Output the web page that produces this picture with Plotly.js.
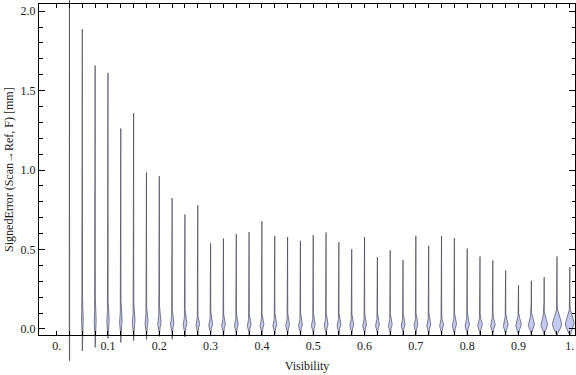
<!DOCTYPE html>
<html>
<head>
<meta charset="utf-8">
<script src="https://cdn.plot.ly/plotly-3.0.1.min.js"></script>
<style>
html,body{margin:0;padding:0;background:#fff;}
#chart{width:576px;height:375px;}
</style>
</head>
<body>
<div id="chart"></div>
<script>
// ---------------- data ----------------
const visibility = [0.025, 0.05, 0.075, 0.1, 0.125, 0.15, 0.175, 0.2, 0.225, 0.25,
                    0.275, 0.3, 0.325, 0.35, 0.375, 0.4, 0.425, 0.45, 0.475, 0.5,
                    0.525, 0.55, 0.575, 0.6, 0.625, 0.65, 0.675, 0.7, 0.725, 0.75,
                    0.775, 0.8, 0.825, 0.85, 0.875, 0.9, 0.925, 0.95, 0.975, 1.0];
// largest signed error per visibility bin (top of each violin)
const maxError = [2.2, 1.887, 1.658, 1.612, 1.262, 1.358, 0.985, 0.962, 0.824, 0.721,
                  0.778, 0.539, 0.570, 0.597, 0.610, 0.679, 0.585, 0.579, 0.555, 0.591,
                  0.608, 0.547, 0.503, 0.579, 0.453, 0.495, 0.434, 0.587, 0.524, 0.585,
                  0.572, 0.507, 0.457, 0.432, 0.369, 0.275, 0.304, 0.327, 0.457, 0.390];
// smallest signed error per bin (bottom of each violin)
const minError = [-0.200, -0.138, -0.116, -0.060, -0.085, -0.074, -0.067, -0.047, -0.065, -0.050,
                  -0.044, -0.045, -0.045, -0.045, -0.045, -0.045, -0.045, -0.045, -0.045, -0.045,
                  -0.045, -0.045, -0.045, -0.045, -0.042, -0.042, -0.042, -0.042, -0.042, -0.040,
                  -0.040, -0.040, -0.040, -0.040, -0.040, -0.040, -0.040, -0.040, -0.040, -0.040];
// most frequent error (densest point of each violin)
const modeError = [0.060, 0.066, 0.060, 0.055, 0.050, 0.046, 0.042, 0.038, 0.035, 0.032,
                   0.030, 0.028, 0.026, 0.026, 0.025, 0.025, 0.025, 0.025, 0.025, 0.025,
                   0.025, 0.025, 0.025, 0.025, 0.025, 0.025, 0.025, 0.025, 0.025, 0.025,
                   0.025, 0.025, 0.025, 0.026, 0.026, 0.027, 0.028, 0.028, 0.030, 0.030];
// spread of the dense core
const spreadError = [0.045, 0.045, 0.041, 0.037, 0.034, 0.031, 0.029, 0.027, 0.025, 0.024,
                     0.023, 0.022, 0.021, 0.021, 0.020, 0.020, 0.020, 0.020, 0.020, 0.020,
                     0.020, 0.020, 0.020, 0.020, 0.020, 0.020, 0.020, 0.020, 0.021, 0.021,
                     0.022, 0.023, 0.024, 0.025, 0.026, 0.028, 0.030, 0.032, 0.040, 0.040];
// relative peak density of each bin
const peakDensity = [0.5, 1.0, 1.1, 1.3, 1.4, 1.5, 1.6, 1.8, 1.8, 1.9,
                     1.9, 2.0, 2.0, 2.0, 2.0, 2.0, 2.0, 2.0, 2.0, 2.0,
                     2.0, 2.0, 2.0, 2.0, 2.0, 2.0, 2.0, 2.0, 2.1, 2.1,
                     2.2, 2.3, 2.4, 2.4, 2.5, 2.8, 3.1, 3.4, 4.6, 4.4];

const xTickVals = [0, 0.1, 0.2, 0.3, 0.4, 0.5, 0.6, 0.7, 0.8, 0.9, 1.0];
const xTickText = ['0.', '0.1', '0.2', '0.3', '0.4', '0.5', '0.6', '0.7', '0.8', '0.9', '1.'];
const yTickVals = [0, 0.5, 1.0, 1.5, 2.0];
const yTickText = ['0.0', '0.5', '1.0', '1.5', '2.0'];

// ---------------- geometry ----------------
const FIG_W = 576, FIG_H = 375;
const M = {l: 39, r: 1, t: 0, b: 13};
const plotW = FIG_W - M.l - M.r;
const plotH = FIG_H - M.t - M.b;
const frameTop = 4.3, frameBottom = 335;      // px from top of figure
const xRange = [-0.0344, 1.0101];
const yRange = [-0.0378, 2.0435];
const d0 = (FIG_H - M.b - frameBottom) / plotH;
const d1 = (FIG_H - M.b - frameTop) / plotH;
const spanPerPaper = (yRange[1] - yRange[0]) / (d1 - d0);
const yFullRange = [yRange[0] - d0 * spanPerPaper, yRange[0] + (1 - d0) * spanPerPaper];
const PX = (xRange[1] - xRange[0]) / plotW;   // x units per pixel

const xMinor = visibility.filter(v => Math.abs(v * 10 - Math.round(v * 10)) > 1e-6);

// ---------------- violins ----------------
function violinTrace(i) {
  const x0 = visibility[i], lo = minError[i], hi = maxError[i];
  const m = modeError[i], s = spreadError[i];
  const W = peakDensity[i] * PX;
  const tail = 0.2 * PX;
  const top = Math.min(hi, m + 4.5 * s);
  const ys = [];
  const n = 80;
  for (let k = 0; k <= n; k++) ys.push(lo + (top - lo) * k / n);
  if (hi > top) ys.push(hi);
  const half = ys.map((y, k) => {
    if (k === 0 || k === ys.length - 1) return 0;
    const sd = y < m ? 0.8 * s : 1.1 * s;
    const g = W * Math.exp(-0.5 * Math.pow((y - m) / sd, 2));
    return Math.max(g, tail);
  });
  const xs = [], yy = [];
  for (let k = 0; k < ys.length; k++) { xs.push(x0 + half[k]); yy.push(ys[k]); }
  for (let k = ys.length - 1; k >= 0; k--) { xs.push(x0 - half[k]); yy.push(ys[k]); }
  return {
    type: 'scatter', mode: 'lines', x: xs, y: yy,
    xaxis: 'x', yaxis: 'y',
    fill: 'toself', fillcolor: '#c4c9f2',
    line: {color: 'rgba(55,55,68,0.68)', width: 0.9},
    hoverinfo: 'skip', showlegend: false
  };
}
const traces = visibility.map((v, i) => violinTrace(i));
// anchor trace so the framed subplot exists
traces.push({type: 'scatter', mode: 'markers', x: [null], y: [null], xaxis: 'x2', yaxis: 'y2',
             hoverinfo: 'skip', showlegend: false});

const axisFont = {family: '"Liberation Serif", "Times New Roman", serif', size: 12, color: '#1a1a1a'};

const layout = {
  width: FIG_W, height: FIG_H,
  margin: M,
  paper_bgcolor: '#ffffff',
  plot_bgcolor: 'rgba(0,0,0,0)',
  showlegend: false,
  font: axisFont,
  // full-height drawing layer (violins may spill past the frame, as in the reference)
  xaxis: {domain: [0, 1], range: xRange, anchor: 'y', visible: false, fixedrange: true},
  yaxis: {domain: [0, 1], range: yFullRange, anchor: 'x', visible: false, fixedrange: true},
  // framed axes
  xaxis2: {
    domain: [0, 1], range: xRange, anchor: 'y2',
    tickmode: 'array', tickvals: xTickVals, ticktext: xTickText,
    ticks: 'inside', ticklen: 4, tickwidth: 1, tickcolor: '#000',
    showline: true, linecolor: '#000', linewidth: 1, mirror: 'ticks',
    showgrid: false, zeroline: false, tickfont: axisFont,
    minor: {tickmode: 'array', tickvals: xMinor, ticks: 'inside', ticklen: 4, tickcolor: '#000', showgrid: false},
    title: {text: 'Visibility', font: axisFont, standoff: 9}
  },
  yaxis2: {
    domain: [d0, d1], range: yRange, anchor: 'x2',
    tickmode: 'array', tickvals: yTickVals, ticktext: yTickText,
    ticks: 'inside', ticklen: 6, tickwidth: 1, tickcolor: '#000',
    showline: true, linecolor: '#000', linewidth: 1, mirror: 'ticks',
    showgrid: false, zeroline: false, tickfont: axisFont,
    minor: {tick0: 0, dtick: 0.1, ticks: 'inside', ticklen: 3.5, tickcolor: '#000', showgrid: false},
    title: {text: 'SignedError (Scan\u2192Ref, F) [mm]', font: axisFont, standoff: 4}
  }
};

Plotly.newPlot('chart', traces, layout, {staticPlot: true, displayModeBar: false});
</script>
</body>
</html>
